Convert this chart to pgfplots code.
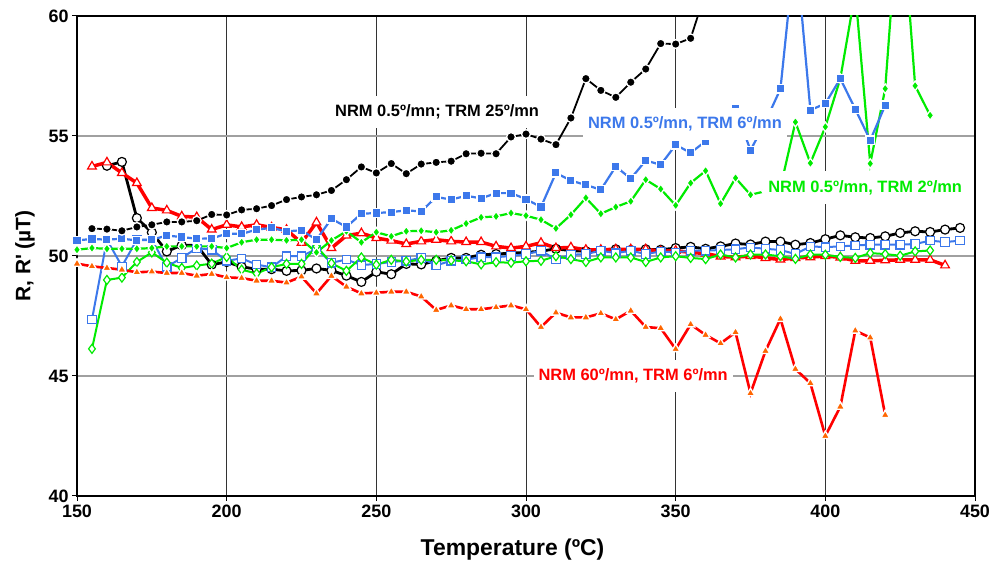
\documentclass[border=0pt]{standalone}
\usepackage{fontspec}
\setmainfont{Liberation Sans}
\usepackage{pgfplots}
\pgfplotsset{compat=1.18}
\definecolor{cblue}{RGB}{60,120,235}
\definecolor{cgreen}{RGB}{0,235,0}
\definecolor{cred}{RGB}{255,0,0}
\definecolor{corange}{RGB}{255,102,0}
\definecolor{cgrid}{RGB}{160,160,160}
\tikzset{lbl/.style={fill=white, font=\fontsize{16.5}{16.5}\selectfont\bfseries, inner xsep=5bp, inner ysep=9bp}}
\begin{document}
\begin{tikzpicture}[x=1bp,y=1bp]
\useasboundingbox (0,0) rectangle (993,563);
\begin{axis}[
 at={(77bp,67bp)}, anchor=south west,
 scale only axis, width=898bp, height=480bp,
 xmin=150, xmax=450, ymin=40, ymax=60,
 xtick={150,200,...,450}, ytick={40,45,...,60},
 /pgf/number format/assume math mode=true,
 ticklabel style={font=\fontsize{18}{18}\selectfont\bfseries},
 tick align=outside, major tick length=5bp,
 tick style={black, line width=1bp},
 xtick pos=bottom, ytick pos=left,
 axis line style={line width=2.5bp},
 grid=major,
 x grid style={black!80, line width=0.8bp},
 y grid style={cgrid, line width=1.3bp},
 xlabel={Temperature (ºC)},
 ylabel={R, R\textquotesingle\ (µT)},
 xlabel style={font=\fontsize{23}{23}\selectfont\bfseries, at={(axis description cs:0.485,-0.112)}, anchor=center},
 ylabel style={font=\fontsize{21}{21}\selectfont\bfseries, at={(axis description cs:-0.058,0.5)}, anchor=center, rotate=0},
 after end axis/.code={
  \node[lbl, text=black] at (axis cs:270.3,56.01) {NRM 0.5º/mn; TRM 25º/mn};
  \node[lbl, text=cblue] at (axis cs:353.1,55.51) {NRM 0.5º/mn, TRM 6º/mn};
  \node[lbl, text=cgreen] at (axis cs:413.3,52.85) {NRM 0.5º/mn, TRM 2º/mn};
  \node[lbl, text=cred] at (axis cs:335.8,45.01) {NRM 60º/mn, TRM 6º/mn};
 },
]
% black open circles
\addplot[black, line width=2.8bp, mark=*, mark size=4.5bp, mark options={fill=white, draw=black, line width=1.2bp}] coordinates {
(160,53.76)(165,53.92)(170,51.58)(175,50.98)(180,50.19)(185,50.45)(190,50.45)(195,49.64)(200,49.75)(205,49.55)
(210,49.45)(215,49.45)(220,49.38)(225,49.40)(230,49.48)(235,49.40)(240,49.18)(245,48.92)(250,49.34)(255,49.24)
(260,49.67)(265,49.65)(270,49.80)(275,49.92)(280,49.92)(285,50.05)(290,50.08)(295,50.12)(300,50.15)(305,50.20)
(310,50.30)(315,50.22)(320,50.20)(325,50.22)(330,50.28)(335,50.25)(340,50.28)(345,50.26)(350,50.33)(355,50.38)
(360,50.30)(365,50.40)(370,50.52)(375,50.48)(380,50.60)(385,50.60)(390,50.47)(395,50.54)(400,50.70)(405,50.86)
(410,50.78)(415,50.75)(420,50.82)(425,50.96)(430,51.03)(435,51.00)(440,51.10)(445,51.17)};
% red open triangles
\addplot[cred, line width=3.5bp, mark=triangle*, mark size=5bp, mark options={fill=white, draw=cred, line width=1.2bp}] coordinates {
(155,53.73)(160,53.90)(165,53.46)(170,53.04)(175,52.00)(180,51.90)(185,51.65)(190,51.62)(195,51.10)(200,51.30)
(205,51.21)(210,51.30)(215,51.19)(220,51.09)(225,50.55)(230,51.40)(235,50.33)(240,50.85)(245,50.95)(250,50.75)
(255,50.64)(260,50.50)(265,50.61)(270,50.68)(275,50.61)(280,50.58)(285,50.58)(290,50.40)(295,50.33)(300,50.40)
(305,50.55)(310,50.33)(315,50.36)(320,50.26)(325,50.26)(330,50.28)(335,50.28)(340,50.28)(345,50.20)(350,50.22)
(355,50.15)(360,50.10)(365,49.98)(370,49.95)(375,50.00)(380,49.92)(385,49.85)(390,49.92)(395,49.95)(400,50.00)
(405,49.94)(410,49.80)(415,49.80)(420,49.82)(425,49.84)(430,49.84)(435,49.84)(440,49.61)};
% blue open squares
\addplot[cblue, line width=2bp, mark=square*, mark size=4.2bp, mark options={fill=white, draw=cblue, line width=1.2bp}] coordinates {
(155,47.35)(160,50.68)(165,49.57)(170,50.68)(175,50.68)(180,49.55)(185,49.92)(190,50.33)(195,50.26)(200,49.80)
(205,49.90)(210,49.64)(215,49.53)(220,49.99)(225,49.99)(230,50.30)(235,49.72)(240,49.85)(245,49.62)(250,49.67)
(255,49.75)(260,49.80)(265,49.92)(270,49.61)(275,49.80)(280,49.85)(285,49.95)(290,49.95)(295,50.00)(300,50.08)
(305,50.22)(310,49.85)(315,50.05)(320,50.08)(325,50.22)(330,50.12)(335,50.22)(340,50.08)(345,50.19)(350,50.15)
(355,50.22)(360,50.22)(365,50.25)(370,50.28)(375,50.36)(380,50.30)(385,50.25)(390,50.08)(395,50.40)(400,50.37)
(405,50.40)(410,50.44)(415,50.47)(420,50.47)(425,50.47)(430,50.50)(435,50.64)(440,50.58)(445,50.64)};
% green open diamonds
\addplot[cgreen, line width=2bp, mark=diamond*, mark size=4.5bp, mark options={fill=white, draw=cgreen, line width=1.2bp}] coordinates {
(155,46.13)(160,49.00)(165,49.10)(170,49.75)(175,50.15)(180,49.72)(185,49.50)(190,49.60)(195,49.68)(200,49.96)
(205,49.43)(210,49.27)(215,49.53)(220,49.67)(225,49.67)(230,50.40)(235,49.70)(240,49.38)(245,49.94)(250,49.64)
(255,49.84)(260,49.77)(265,49.84)(270,49.84)(275,49.82)(280,49.78)(285,49.65)(290,49.74)(295,49.72)(300,49.78)
(305,49.80)(310,49.99)(315,49.87)(320,49.75)(325,49.94)(330,49.94)(335,49.94)(340,49.75)(345,49.94)(350,49.99)
(355,49.92)(360,49.87)(365,50.06)(370,49.94)(375,50.06)(380,50.06)(385,49.99)(390,49.88)(395,50.06)(400,50.05)
(405,49.96)(410,49.92)(415,50.12)(420,50.08)(425,50.01)(430,50.19)(435,50.23)};
% orange triangles, red line (NRM 60, TRM 6)
\addplot[cred, line width=2.6bp, mark=triangle*, mark size=5bp, mark options={fill=corange, draw=white, line width=1.3bp}] coordinates {
(150,49.68)(155,49.57)(160,49.50)(165,49.43)(170,49.32)(175,49.35)(180,49.29)(185,49.29)(190,49.18)(195,49.25)
(200,49.11)(205,49.08)(210,48.97)(215,48.97)(220,48.89)(225,49.14)(230,48.44)(235,49.17)(240,48.72)(245,48.44)
(250,48.47)(255,48.51)(260,48.51)(265,48.31)(270,47.75)(275,47.94)(280,47.78)(285,47.78)(290,47.86)(295,47.94)
(300,47.78)(305,47.04)(310,47.64)(315,47.44)(320,47.44)(325,47.61)(330,47.36)(335,47.72)(340,47.04)(345,46.99)
(350,46.12)(355,47.15)(360,46.71)(365,46.36)(370,46.82)(375,44.28)(380,46.04)(385,47.38)(390,45.29)(395,44.70)
(400,42.50)(405,43.72)(410,46.89)(415,46.60)(420,43.37)};
% green filled diamonds
\addplot[cgreen, line width=2.2bp, mark=diamond*, mark size=4.8bp, mark options={fill=cgreen, draw=white, line width=1.3bp}] coordinates {
(150,50.26)(155,50.33)(160,50.30)(165,50.30)(170,50.30)(175,50.33)(180,50.40)(185,50.40)(190,50.40)(195,50.40)
(200,50.33)(205,50.57)(210,50.68)(215,50.68)(220,50.65)(225,50.68)(230,50.15)(235,50.65)(240,51.03)(245,50.57)
(250,50.99)(255,50.82)(260,51.03)(265,51.05)(270,50.99)(275,51.07)(280,51.35)(285,51.61)(290,51.65)(295,51.79)
(300,51.68)(305,51.51)(310,51.15)(315,51.72)(320,52.42)(325,51.76)(330,52.04)(335,52.28)(340,53.18)(345,52.79)
(350,52.11)(355,53.04)(360,53.55)(365,52.18)(370,53.25)(375,52.55)(380,52.70)(385,52.85)(390,55.58)(395,53.87)
(400,55.38)(405,57.39)(410,61.00)(415,53.85)(420,56.97)(425,65.40)(430,57.09)(435,55.86)};
% blue filled squares
\addplot[cblue, line width=2.2bp, mark=square*, mark size=4.2bp, mark options={fill=cblue, draw=white, line width=1.3bp}] coordinates {
(150,50.65)(155,50.71)(160,50.68)(165,50.72)(170,50.65)(175,50.68)(180,50.85)(185,50.79)(190,50.72)(195,50.73)
(200,50.93)(205,50.92)(210,51.10)(215,51.17)(220,51.03)(225,51.07)(230,50.68)(235,51.55)(240,51.21)(245,51.76)
(250,51.79)(255,51.83)(260,51.90)(265,51.86)(270,52.46)(275,52.35)(280,52.51)(285,52.40)(290,52.62)(295,52.62)
(300,52.37)(305,52.04)(310,53.46)(315,53.14)(320,52.96)(325,52.76)(330,53.73)(335,53.22)(340,53.98)(345,53.80)
(350,54.63)(355,54.30)(360,54.78)(365,55.30)(370,56.14)(375,54.40)(380,55.60)(385,56.96)(390,63.00)(395,56.08)
(400,56.35)(405,57.39)(410,56.12)(415,54.82)(420,56.28)};
% black filled circles
\addplot[black, line width=1.8bp, mark=*, mark size=4.4bp, mark options={fill=black, draw=white, line width=1.3bp}] coordinates {
(155,51.14)(160,51.12)(165,51.05)(170,51.21)(175,51.30)(180,51.42)(185,51.42)(190,51.47)(195,51.73)(200,51.71)
(205,51.92)(210,51.97)(215,52.10)(220,52.35)(225,52.46)(230,52.55)(235,52.73)(240,53.18)(245,53.71)(250,53.46)
(255,53.85)(260,53.43)(265,53.83)(270,53.90)(275,53.95)(280,54.26)(285,54.28)(290,54.26)(295,54.96)(300,55.08)
(305,54.87)(310,54.64)(315,55.75)(320,57.39)(325,56.90)(330,56.61)(335,57.24)(340,57.79)(345,58.85)(350,58.83)
(355,59.07)(360,61.00)};
\end{axis}
\end{tikzpicture}
\end{document}
